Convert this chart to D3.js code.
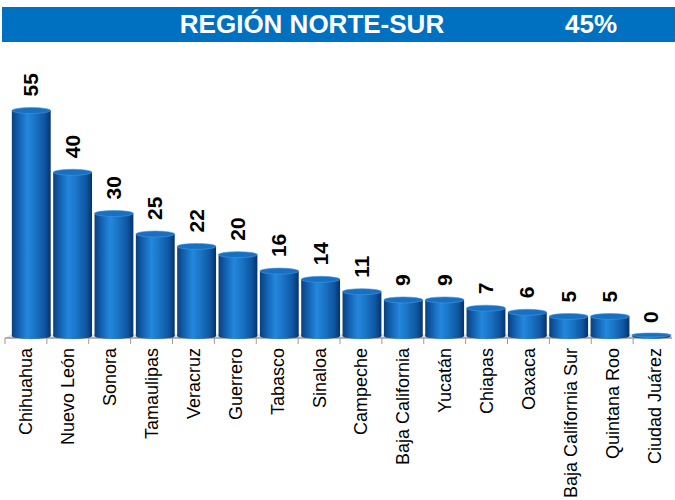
<!DOCTYPE html>
<html>
<head>
<meta charset="utf-8">
<script src="https://cdn.jsdelivr.net/npm/d3@7"></script>
<style>
  body { margin: 0; background: #fff; }
  svg { display: block; font-family: Arial, "Liberation Sans", sans-serif; }
</style>
</head>
<body>
<div class="canvas"></div>
<script>
// chart data
const titleText = 'REGIÓN NORTE-SUR';
const percentText = '45%';
const states = ['Chihuahua', 'Nuevo León', 'Sonora', 'Tamaulipas', 'Veracruz', 'Guerrero',
  'Tabasco', 'Sinaloa', 'Campeche', 'Baja California', 'Yucatán', 'Chiapas', 'Oaxaca',
  'Baja California Sur', 'Quintana Roo', 'Ciudad Juárez'];
const counts = [55, 40, 30, 25, 22, 20, 16, 14, 11, 9, 9, 7, 6, 5, 5, 0];

const dims = { width: 675, height: 500 };
const base = 337;

const svg = d3.select('.canvas')
  .append('svg')
    .attr('width', dims.width)
    .attr('height', dims.height);

const defs = svg.append('defs');
const grad = defs.append('linearGradient')
  .attr('id', 'cyl')
  .attr('x1', '0%').attr('x2', '100%')
  .attr('y1', '0%').attr('y2', '0%');
[['0%', '#0a3f7c'], ['15%', '#115cab'], ['40%', '#2387dc'], ['60%', '#1a74c6'],
 ['85%', '#0e55a0'], ['100%', '#06336a']].forEach(s => {
  grad.append('stop').attr('offset', s[0]).attr('stop-color', s[1]);
});

// title bar
svg.append('rect')
  .attr('x', 2).attr('y', 7)
  .attr('width', dims.width - 2).attr('height', 35)
  .attr('fill', '#0070C0');

svg.append('text')
  .attr('x', 312).attr('y', 33)
  .attr('text-anchor', 'middle')
  .attr('fill', '#fff')
  .attr('font-weight', 'bold')
  .attr('font-size', 26)
  .text(titleText);

svg.append('text')
  .attr('x', 591).attr('y', 33)
  .attr('text-anchor', 'middle')
  .attr('fill', '#fff')
  .attr('font-weight', 'bold')
  .attr('font-size', 26)
  .text(percentText);

// scales
const xAxis = d3.scaleBand()
  .domain(states)
  .range([5, 675]);

const xBar = d3.scaleBand()
  .domain(states)
  .range([10.6, 672])
  .paddingInner(0.06)
  .paddingOuter(0.03);

const y = d3.scaleLinear()
  .domain([0, 55])
  .range([base, 110.5]);

// floor
svg.append('path')
  .attr('d', `M5,${base + 1} L12,${base - 3} L672,${base - 3} L672,${base + 1} Z`)
  .attr('fill', '#e4e4e4');
svg.append('line')
  .attr('x1', 5).attr('x2', 672)
  .attr('y1', base + 1).attr('y2', base + 1)
  .attr('stroke', '#9a9a9a')
  .attr('stroke-width', 1.5);

svg.selectAll('.tick')
  .data(states)
  .enter()
  .append('line')
    .attr('class', 'tick')
    .attr('x1', d => xAxis(d)).attr('x2', d => xAxis(d))
    .attr('y1', base + 1).attr('y2', base + 7)
    .attr('stroke', '#9a9a9a')
    .attr('stroke-width', 1);

// bars as cylinders
const bars = svg.selectAll('.bar')
  .data(states)
  .enter()
  .append('g')
    .attr('class', 'bar');

const bw = xBar.bandwidth();
const ry = 3;

bars.append('ellipse')
  .attr('cx', d => xBar(d) + bw / 2)
  .attr('cy', base - 1)
  .attr('rx', bw / 2).attr('ry', ry)
  .attr('fill', 'url(#cyl)');

bars.append('rect')
  .attr('x', d => xBar(d))
  .attr('y', (d, i) => y(counts[i]))
  .attr('width', bw)
  .attr('height', (d, i) => base - 1 - y(counts[i]))
  .attr('fill', 'url(#cyl)');

bars.append('ellipse')
  .attr('cx', d => xBar(d) + bw / 2)
  .attr('cy', (d, i) => Math.min(y(counts[i]), base - 2))
  .attr('rx', bw / 2).attr('ry', (d, i) => counts[i] > 0 ? ry : 2)
  .attr('fill', '#1770c2')
  .attr('stroke', '#4a96dc')
  .attr('stroke-width', 0.6);

// value labels
svg.selectAll('.val')
  .data(states)
  .enter()
  .append('text')
    .attr('class', 'val')
    .attr('transform', (d, i) => `translate(${xBar(d) + bw / 2 + 7}, ${y(counts[i]) - 14}) rotate(-90)`)
    .attr('font-weight', 'bold')
    .attr('font-size', 21)
    .attr('fill', '#000')
    .text((d, i) => counts[i]);

// category labels
svg.selectAll('.cat')
  .data(states)
  .enter()
  .append('text')
    .attr('class', 'cat')
    .attr('transform', d => `translate(${xAxis(d) + xAxis.bandwidth() / 2 + 6.5}, 348) rotate(-90)`)
    .attr('text-anchor', 'end')
    .attr('font-size', 18)
    .attr('fill', '#000')
    .text(d => d);
</script>
</body>
</html>
